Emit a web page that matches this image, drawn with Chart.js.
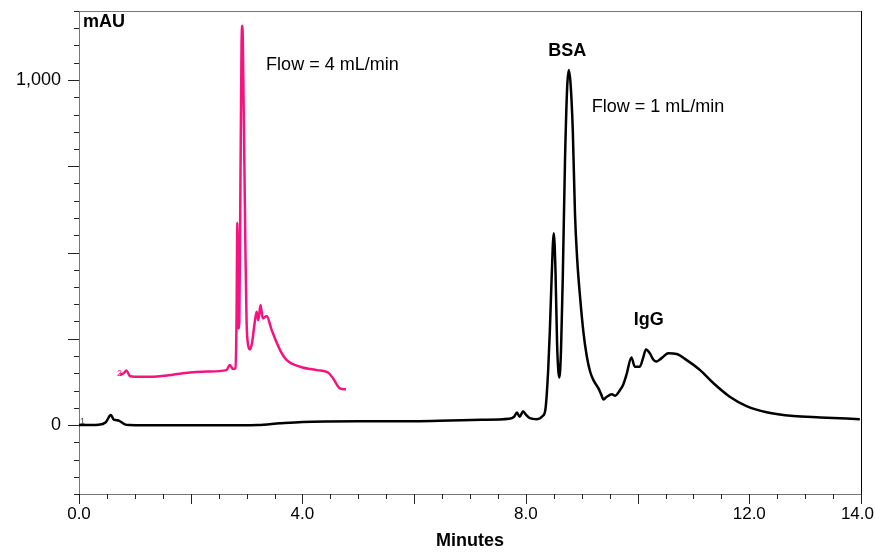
<!DOCTYPE html>
<html>
<head>
<meta charset="utf-8">
<script src="https://cdn.jsdelivr.net/npm/chart.js@4.4.1/dist/chart.umd.min.js"></script>
<style>
  html, body { margin: 0; padding: 0; background: #fff; }
  #wrap { width: 875px; height: 552px; }
</style>
</head>
<body>
<div id="wrap"><canvas id="chrom" width="875" height="552"></canvas></div>
<script>
// trace 1 : 1 mL/min (noir)
const run1Minutes = [0.0, 0.35, 0.48, 0.57, 0.62, 0.67, 0.72, 0.82, 0.9, 1.5, 2.5, 3.2, 3.6, 4.0, 5.0, 6.0, 6.64, 7.2, 7.7,
  7.79, 7.84, 7.89, 7.95, 8.0, 8.07, 8.2, 8.3, 8.35, 8.40, 8.43, 8.46, 8.50, 8.53, 8.56, 8.60, 8.63, 8.66, 8.70,
  8.74, 8.77, 8.80, 8.84, 8.88, 8.92, 8.97, 9.03, 9.09, 9.15, 9.21, 9.30, 9.35, 9.39, 9.45, 9.54, 9.60, 9.68,
  9.74, 9.80, 9.89, 9.95, 10.04, 10.10, 10.15, 10.22, 10.28, 10.34, 10.40, 10.46, 10.55, 10.70, 10.88, 11.12,
  11.36, 11.65, 11.95, 12.31, 12.79, 13.27, 13.98];
const run1mAU = [0, 1, 8, 29, 16, 14, 12, 2, 0, -1, -1, 0, 5, 9, 11, 11, 13, 15, 18,
  24, 36, 24, 40, 30, 20, 17, 26, 45, 160, 275, 420, 556, 450, 230, 138, 220, 420, 760,
  980, 1029, 990, 855, 610, 478, 372, 270, 200, 155, 130, 106, 88, 74, 82, 89, 85, 100,
  116, 145, 196, 169, 169, 195, 219, 208, 190, 184, 190, 198, 208, 206, 188, 159,
  121, 82, 55, 37, 26, 22, 17];

// trace 2 : 4 mL/min (rose)
const run2Minutes = [0.73, 0.80, 0.85, 0.91, 1.0, 1.27, 1.6, 1.86, 2.3, 2.64, 2.70, 2.76, 2.80, 2.82, 2.835, 2.845,
  2.853, 2.87, 2.89, 2.91, 2.924, 2.95, 2.98, 3.0, 3.03, 3.06, 3.10, 3.14, 3.18, 3.21, 3.25, 3.29, 3.36,
  3.45, 3.60, 3.72, 3.96, 4.26, 4.46, 4.55, 4.67, 4.78];
const run2mAU = [145, 150, 158, 142, 140, 140, 144, 150, 155, 159, 174, 162, 165, 300, 586, 420,
  280, 300, 700, 1100, 1157, 900, 500, 300, 230, 219, 240, 290, 328, 304, 348, 309, 316,
  275, 217, 188, 169, 159, 152, 135, 106, 103];

const xLabels = [0, 4, 8, 12, 14];
const yLabels = [0, 1000];

// textes posés en coordonnées (minutes, mAU)
const notes = [
  { text: 'mAU', x: 0.07, y: 1168, bold: true, align: 'left' },
  { text: 'Flow = 4 mL/min', x: 3.35, y: 1044, bold: false, align: 'left' },
  { text: 'BSA', x: 8.74, y: 1085, bold: true, align: 'center' },
  { text: 'Flow = 1 mL/min', x: 9.18, y: 922, bold: false, align: 'left' },
  { text: 'IgG', x: 10.2, y: 304, bold: true, align: 'center' },
];

const FONT = '"Liberation Sans", Arial, sans-serif';
const PINK = '#f5137f';

const toXY = (xs, ys) => xs.map((x, i) => ({ x, y: ys[i] }));

// petites graduations + cadre + annotations
const decor = {
  id: 'decor',
  afterDraw(chart) {
    const { ctx, chartArea: a, scales: { x, y } } = chart;
    ctx.save();
    ctx.strokeStyle = '#222';
    ctx.lineWidth = 1;
    ctx.beginPath();
    for (let m = 0; m <= 14.001; m += 0.5) {
      const px = Math.round(x.getPixelForValue(m)) + 0.5;
      const len = (Math.abs(m % 2) < 1e-6) ? 10 : 5;
      ctx.moveTo(px, a.bottom);
      ctx.lineTo(px, a.bottom + len);
    }
    for (let v = -200; v <= 1200; v += 50) {
      const py = Math.round(y.getPixelForValue(v)) + 0.5;
      const len = (v % 250 === 0) ? 11 : 5;
      ctx.moveTo(a.left, py);
      ctx.lineTo(a.left - len, py);
    }
    ctx.stroke();

    // cadre haut (gris) et droit (noir)
    ctx.strokeStyle = '#777';
    ctx.beginPath();
    ctx.moveTo(a.left, a.top + 0.5);
    ctx.lineTo(a.right, a.top + 0.5);
    ctx.stroke();
    ctx.strokeStyle = '#000';
    ctx.beginPath();
    ctx.moveTo(a.right + 0.5, a.top);
    ctx.lineTo(a.right + 0.5, a.bottom);
    ctx.stroke();

    // étiquettes de l'axe x (la dernière reste dans le canvas)
    ctx.font = '17px ' + FONT;
    ctx.fillStyle = '#000';
    ctx.textAlign = 'center';
    ctx.textBaseline = 'top';
    xLabels.forEach(m => {
      const txt = m.toFixed(1);
      const w = ctx.measureText(txt).width;
      const px = Math.min(x.getPixelForValue(m), chart.width - 1 - w / 2);
      ctx.fillText(txt, px, a.bottom + 12);
    });

    ctx.textBaseline = 'middle';
    notes.forEach(n => {
      ctx.font = (n.bold ? 'bold ' : '') + '18px ' + FONT;
      ctx.textAlign = n.align;
      ctx.fillText(n.text, x.getPixelForValue(n.x), y.getPixelForValue(n.y));
    });

    // numéros de trace
    ctx.font = '9px ' + FONT;
    ctx.textAlign = 'left';
    ctx.fillStyle = '#444';
    ctx.fillText('1', x.getPixelForValue(0.02), y.getPixelForValue(9));
    ctx.fillStyle = PINK;
    ctx.fillText('2', x.getPixelForValue(0.68), y.getPixelForValue(150));
    ctx.restore();
  }
};

new Chart(document.getElementById('chrom'), {
  type: 'line',
  data: {
    datasets: [
      {
        label: '4 mL/min',
        data: toXY(run2Minutes, run2mAU),
        borderColor: PINK,
        borderWidth: 2.5,
        pointRadius: 0,
        cubicInterpolationMode: 'monotone',
        fill: false,
      },
      {
        label: '1 mL/min',
        data: toXY(run1Minutes, run1mAU),
        borderColor: '#000',
        borderWidth: 2.5,
        pointRadius: 0,
        cubicInterpolationMode: 'monotone',
        fill: false,
      }
    ]
  },
  options: {
    animation: false,
    responsive: false,
    devicePixelRatio: 1,
    layout: { padding: { top: 11, right: 14, left: 0, bottom: 0 } },
    plugins: { legend: { display: false }, tooltip: { enabled: false } },
    scales: {
      x: {
        type: 'linear',
        min: 0, max: 14,
        grid: { display: false, drawTicks: false },
        border: { display: true, color: '#777', width: 1 },
        ticks: {
          stepSize: 2,
          autoSkip: false,
          maxRotation: 0,
          padding: 13,
          font: { family: FONT, size: 17 },
          callback: () => ''   // dessinées par le plugin
        },
        title: {
          display: true, text: 'Minutes', color: '#000',
          font: { family: FONT, size: 18, weight: 'bold' },
          padding: { top: 0, bottom: 0 }
        },
        afterFit: s => { s.height = 58; s.paddingLeft = 0; s.paddingRight = 0; }
      },
      y: {
        min: -200, max: 1200,
        grid: { display: false, drawTicks: false },
        border: { display: true, color: '#777', width: 1 },
        ticks: {
          stepSize: 250,
          autoSkip: false,
          padding: 18,
          color: '#000',
          font: { family: FONT, size: 18 },
          callback: v => yLabels.includes(v) ? v.toLocaleString('en-US') : ''
        },
        afterFit: s => { s.width = 79; s.paddingTop = 0; s.paddingBottom = 0; }
      }
    }
  },
  plugins: [decor]
});
</script>
</body>
</html>
